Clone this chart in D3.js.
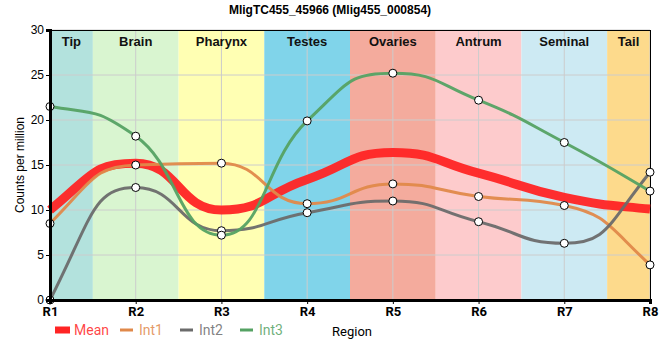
<!DOCTYPE html>
<html><head><meta charset="utf-8">
<script src="https://cdn.jsdelivr.net/npm/d3@7"></script>
<style>body{margin:0;background:#fff;}svg{display:block;}</style>
</head><body>
<script>
const regions = ["R1","R2","R3","R4","R5","R6","R7","R8"];
const tissues = ["Tip","Brain","Pharynx","Testes","Ovaries","Antrum","Seminal","Tail"];
const tissueColors = ["#b3e2dd","#d9f5d0","#ffffb3","#80d4ea","#f4ab9d","#fdcbcc","#cdeaf3","#fdda8c"];
const meanVals = [10.0, 15.2, 10.0, 13.4, 16.4, 14.1, 11.4, 10.1];
const int1Vals = [8.5, 15.0, 15.2, 10.7, 12.9, 11.5, 10.5, 3.9];
const int2Vals = [0.0, 12.5, 7.7, 9.7, 11.0, 8.7, 6.3, 14.2];
const int3Vals = [21.5, 18.2, 7.2, 19.9, 25.2, 22.2, 17.5, 12.1];
const yTicks = [0, 5, 10, 15, 20, 25, 30];
const seriesNames = ["Mean","Int1","Int2","Int3"];
const seriesColors = ["#ff2424","#e0894a","#6b6b6b","#55a263"];

// smooth curve: monotone tangents, control points at segment midpoints
function SmoothCurve(context) { this._context = context; }
SmoothCurve.prototype = {
  areaStart() {}, areaEnd() {},
  lineStart() { this._pts = []; },
  point(x, y) { this._pts.push([+x, +y]); },
  lineEnd() {
    const p = this._pts, n = p.length, c = this._context;
    if (!n) return;
    const s = [], m = new Array(n);
    for (let i = 0; i < n - 1; i++) s.push((p[i+1][1] - p[i][1]) / (p[i+1][0] - p[i][0]));
    for (let i = 1; i < n - 1; i++) {
      const h0 = p[i][0] - p[i-1][0], h1 = p[i+1][0] - p[i][0];
      const q = (s[i-1] * h1 + s[i] * h0) / (h0 + h1);
      m[i] = (Math.sign(s[i-1]) + Math.sign(s[i])) * Math.min(Math.abs(s[i-1]), Math.abs(s[i]), 0.5 * Math.abs(q)) || 0;
    }
    m[0] = (3 * s[0] - m[1]) / 2;
    m[n-1] = (3 * s[n-2] - m[n-2]) / 2;
    c.moveTo(p[0][0], p[0][1]);
    const a = 0.5;
    for (let i = 0; i < n - 1; i++) {
      const h = p[i+1][0] - p[i][0];
      c.bezierCurveTo(p[i][0] + a*h, p[i][1] + m[i]*a*h, p[i+1][0] - a*h, p[i+1][1] - m[i+1]*a*h, p[i+1][0], p[i+1][1]);
    }
  }
};
const curveSmooth = ctx => new SmoothCurve(ctx);

const W = 660, H = 360;
const svg = d3.select("body").append("svg").attr("width", W).attr("height", H);
const x = d3.scalePoint().domain(regions).range([50, 650]);
const y = d3.scaleLinear().domain([0, 30]).range([300, 30]);
const step = x.step();
const bandL = i => Math.max(50, x(regions[i]) - step/2);
const bandR = i => Math.min(650, x(regions[i]) + step/2);

// bands
svg.append("g").selectAll("rect").data(tissues).join("rect")
  .attr("x", (d,i) => bandL(i)).attr("width", (d,i) => bandR(i) - bandL(i))
  .attr("y", 30).attr("height", 270)
  .attr("fill", (d,i) => tissueColors[i]);

// grid
svg.append("g").selectAll("line").data(yTicks).join("line")
  .attr("x1", 50).attr("x2", 650).attr("y1", d => y(d)).attr("y2", d => y(d))
  .attr("stroke", "#cccccc").attr("stroke-width", 1);
svg.append("g").selectAll("line").data(regions).join("line")
  .attr("x1", d => x(d)).attr("x2", d => x(d)).attr("y1", 30).attr("y2", 300)
  .attr("stroke", "#cccccc").attr("stroke-width", 1);

// band labels
svg.append("g").selectAll("text").data(tissues).join("text")
  .attr("x", (d,i) => (bandL(i) + bandR(i)) / 2)
  .attr("y", 46).attr("text-anchor", "middle")
  .style("font", "bold 13px 'Liberation Sans', Arial, sans-serif").attr("fill", "#111")
  .text(d => d);

// frame top/right
svg.append("line").attr("x1", 50).attr("x2", 650).attr("y1", 30.5).attr("y2", 30.5).attr("stroke", "#000");
svg.append("line").attr("x1", 650.5).attr("x2", 650.5).attr("y1", 30).attr("y2", 300).attr("stroke", "#000");

// lines
const line = d3.line().x((d,i) => x(regions[i])).y(d => y(d)).curve(curveSmooth);
const allSeries = [meanVals, int1Vals, int2Vals, int3Vals];
const widths = [9, 3, 3, 3];
allSeries.forEach((vals, k) => {
  svg.append("path").datum(vals).attr("d", line)
    .attr("fill", "none").attr("stroke", seriesColors[k])
    .attr("stroke-width", widths[k]).attr("stroke-opacity", 0.95);
});

// points
[int1Vals, int2Vals, int3Vals].forEach(vals => {
  svg.append("g").selectAll("circle").data(vals).join("circle")
    .attr("cx", (d,i) => x(regions[i])).attr("cy", d => y(d)).attr("r", 4)
    .attr("fill", "#fff").attr("stroke", "#000").attr("stroke-width", 1);
});

// axes
const yAxis = d3.axisLeft(y).tickValues(yTicks).tickSize(4).tickPadding(2);
const gy = svg.append("g").attr("transform", "translate(50,0)").call(yAxis);
gy.select(".domain").attr("stroke", "#000").attr("stroke-width", 3);
gy.selectAll("text").style("font", "12px 'Liberation Sans', Arial, sans-serif").attr("fill", "#000");

const xAxis = d3.axisBottom(x).tickSize(4).tickPadding(3);
const gx = svg.append("g").attr("transform", "translate(0,300)").call(xAxis);
gx.select(".domain").attr("stroke", "#000").attr("stroke-width", 3);
gx.selectAll("text").style("font", "bold 13px Roboto, sans-serif").attr("fill", "#000");

// title
svg.append("text").attr("x", 330).attr("y", 14).attr("text-anchor", "middle")
  .style("font", "bold 12px 'Liberation Sans', Arial, sans-serif").text("MligTC455_45966 (Mlig455_000854)");

// y label
svg.append("text").attr("transform", "translate(24,165) rotate(-90)").attr("text-anchor", "middle")
  .style("font", "12px 'Liberation Sans', Arial, sans-serif").text("Counts per million");

// x label
svg.append("text").attr("x", 352).attr("y", 336).attr("text-anchor", "middle")
  .style("font", "13px Roboto, sans-serif").text("Region");

// legend
const legX = [55, 120, 180, 240];
const lg = svg.append("g");
seriesNames.forEach((n, k) => {
  lg.append("line").attr("x1", legX[k]).attr("x2", legX[k] + (k === 0 ? 15 : 13))
    .attr("y1", 330).attr("y2", 330).attr("stroke", seriesColors[k]).attr("stroke-width", k === 0 ? 7 : 3);
  lg.append("text").attr("x", legX[k] + 19).attr("y", 335)
    .style("font", "14px Roboto, sans-serif").attr("fill", seriesColors[k]).attr("fill-opacity", 0.85).text(n);
});
</script>
</body></html>
